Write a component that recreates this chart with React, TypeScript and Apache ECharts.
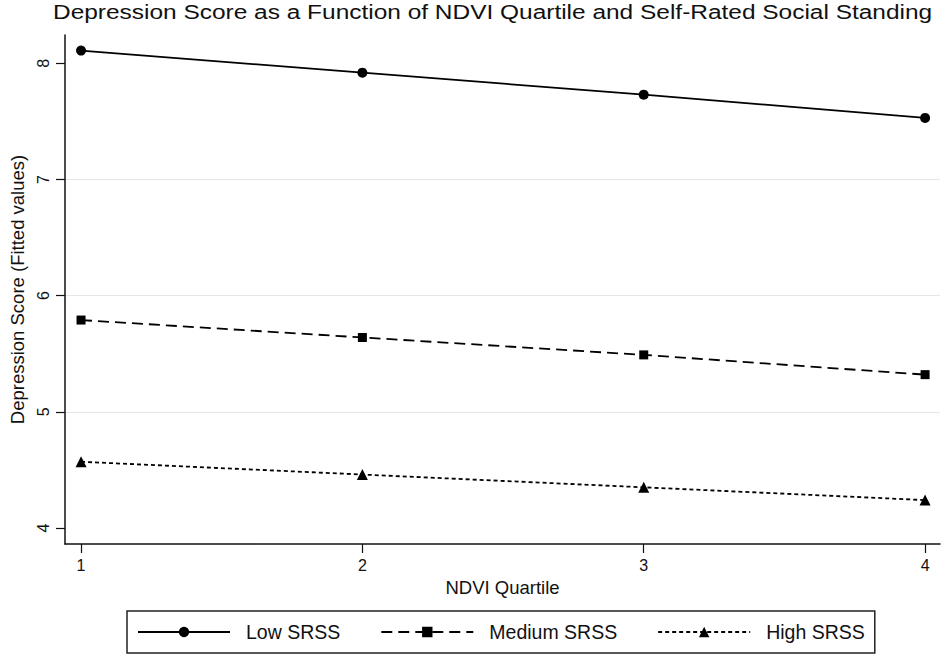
import React, { useEffect, useRef } from "react";
import * as echarts from "echarts";

const quartiles = [1, 2, 3, 4];
const lowSRSS = [8.11, 7.92, 7.73, 7.53];
const mediumSRSS = [5.79, 5.64, 5.49, 5.32];
const highSRSS = [4.57, 4.46, 4.35, 4.24];
const yTicks = [4, 5, 6, 7, 8];
const xTicks = [1, 2, 3, 4];
const seriesNames = ["Low SRSS", "Medium SRSS", "High SRSS"];
const titleText =
  "Depression Score as a Function of NDVI Quartile and Self-Rated Social Standing";

const FONT = "'Liberation Sans', Arial, Helvetica, sans-serif";

export default function App() {
  const ref = useRef<HTMLDivElement>(null);
  useEffect(() => {
    document.body.style.margin = "0";
    const chart = echarts.init(ref.current!, null, { renderer: "svg" });
    const toPairs = (vals: number[]) => quartiles.map((q, i) => [q, vals[i]]);
    const seriesDefs = [
      { name: seriesNames[0], data: lowSRSS, symbol: "circle", size: 10, dash: "solid" as any },
      { name: seriesNames[1], data: mediumSRSS, symbol: "rect", size: 9, dash: [11, 6] },
      { name: seriesNames[2], data: highSRSS, symbol: "triangle", size: 11, dash: [4, 3] },
    ];
    chart.setOption({
      animation: false,
      backgroundColor: "#ffffff",
      textStyle: { fontFamily: FONT, color: "#111" },
      graphic: [
        {
          type: "text",
          x: 53,
          y: 1,
          scaleX: 1.165,
          style: {
            text: titleText,
            fontFamily: FONT,
            fontSize: 21,
            fill: "#111",
            textAlign: "left",
            textVerticalAlign: "top",
          },
        },
      ],
      grid: { left: 64, right: 8, top: 35, bottom: 117, containLabel: false },
      legend: {
        data: seriesNames,
        left: 127,
        top: 611,
        orient: "horizontal",
        padding: [11, 10, 11, 10],
        itemGap: 40,
        itemWidth: 92,
        itemHeight: 13,
        borderColor: "#222",
        borderWidth: 1.5,
        textStyle: { fontFamily: FONT, fontSize: 19.5, color: "#111", padding: [0, 0, 0, 11] },
      },
      xAxis: {
        type: "value",
        min: 0.943,
        max: 4.053,
        name: "NDVI Quartile",
        nameLocation: "middle",
        nameGap: 33,
        nameTextStyle: { fontFamily: FONT, fontSize: 18.5, color: "#111" },
        axisLine: { show: true, onZero: false, lineStyle: { color: "#111", width: 1.5 } },
        axisTick: { show: true, length: 9, customValues: xTicks, lineStyle: { color: "#111", width: 1.2 } },
        axisLabel: { customValues: xTicks, margin: 13, fontSize: 16, color: "#111", fontFamily: FONT },
        splitLine: { show: false },
      },
      yAxis: {
        type: "value",
        min: 3.862,
        max: 8.244,
        name: "Depression Score (Fitted values)",
        nameLocation: "middle",
        nameGap: 38,
        nameTextStyle: { fontFamily: FONT, fontSize: 18.5, color: "#111" },
        axisLine: { show: true, onZero: false, lineStyle: { color: "#111", width: 1.5 } },
        axisTick: { show: true, length: 9, customValues: yTicks, lineStyle: { color: "#111", width: 1.2 } },
        axisLabel: { customValues: yTicks, rotate: 90, margin: 14, fontSize: 16, color: "#111", fontFamily: FONT },
        splitLine: {
          show: true,
          showMinLine: false,
          showMaxLine: false,
          lineStyle: { color: "#e6e6e6", width: 1.2 },
        },
      },
      series: seriesDefs.map((s) => ({
        name: s.name,
        type: "line",
        data: toPairs(s.data),
        symbol: s.symbol,
        symbolSize: s.size,
        showSymbol: true,
        color: "#000",
        itemStyle: { color: "#000" },
        lineStyle: { color: "#000", width: 1.8, type: s.dash },
        z: 3,
      })),
    });
    return () => chart.dispose();
  }, []);
  return <div ref={ref} style={{ width: 948, height: 661 }} />;
}
